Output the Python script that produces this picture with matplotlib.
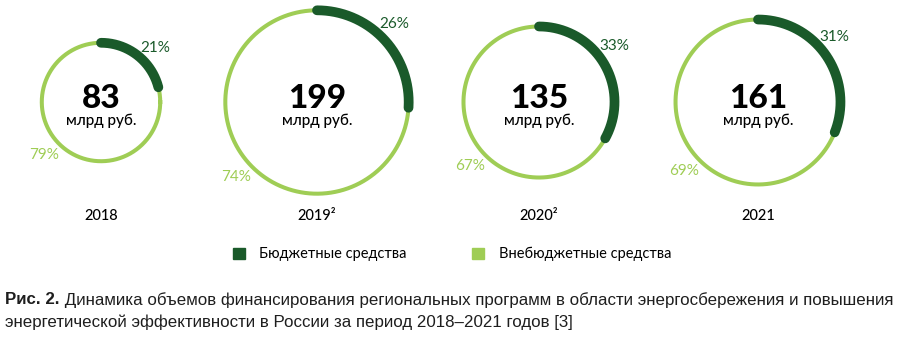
import numpy as np
import matplotlib.pyplot as plt
from matplotlib.patches import Patch

years = ["2018", "2019²", "2020²", "2021"]
totals = [83, 199, 135, 161]
budget_pct = [21, 26, 33, 31]
extra_pct = [79, 74, 67, 69]
unit = "млрд руб."
legend_labels = ["Бюджетные средства", "Внебюджетные средства"]
caption_bold = "Рис. 2."
caption_text = (" Динамика объемов финансирования региональных программ в области энергосбережения и повышения\n"
                 "энергетической эффективности в России за период 2018–2021 годов [3]")

dark = "#1a5a2a"
light = "#9fcd55"
font = ["Lato", "DejaVu Sans"]

fig = plt.figure(figsize=(9, 3.46), dpi=100)
ax = fig.add_axes([0, 0, 1, 1])
ax.set_xlim(0, 900)
ax.set_ylim(346, 0)
ax.set_axis_off()

centers_x = [101, 317, 539, 758]
cy = 102

for cx, total, bp, ep, yr in zip(centers_x, totals, budget_pct, extra_pct, years):
    r = 6.5 * np.sqrt(total)
    t = np.linspace(0, 2 * np.pi, 400)
    ax.plot(cx + r * np.cos(t), cy - r * np.sin(t), color=light, lw=2.9)
    a_end = 90 - bp * 3.6
    ta = np.radians(np.linspace(90, a_end, 200))
    ax.plot(cx + r * np.cos(ta), cy - r * np.sin(ta), color=dark, lw=7,
            solid_capstyle="round")
    # label of the dark arc, a bit past its middle
    am = np.radians(min(90 - bp * 1.8 + 7, 46))
    ax.text(cx + (r + 19) * np.cos(am), cy + 2 - (r + 19) * np.sin(am), f"{bp}%",
            color=dark, fontsize=11, ha="center", va="center", family=font)
    al = np.radians(223)
    ax.text(cx + (r + 19) * np.cos(al), cy - (r + 19) * np.sin(al), f"{ep}%",
            color=light, fontsize=11, ha="center", va="center", family=font)
    ax.text(cx, cy - 4, str(total), fontsize=24, fontweight="black",
            ha="center", va="center", family=font, color="black")
    ax.text(cx, cy + 19, unit, fontsize=11, fontweight="medium", ha="center",
            va="center", family=font, color="black")
    ax.text(cx, 216, yr, fontsize=10.5, fontweight="medium", ha="center",
            va="center", family=font, color="black")

handles = [Patch(color=dark), Patch(color=light)]
ax.legend(handles, legend_labels, ncol=2, frameon=False, loc="center",
          bbox_to_anchor=(452 / 900, 1 - 254 / 346), prop={"family": font, "size": 10.5},
          handlelength=0.8, handleheight=0.8, handletextpad=1.0, columnspacing=4.5)

cap_font = ["Liberation Sans Narrow", "Liberation Sans", "DejaVu Sans"]
tb = ax.text(5, 300, caption_bold, fontsize=12.2, fontweight="bold", family=cap_font,
             va="center", ha="left", color="#1e1e1e")
fig.canvas.draw()
bb = tb.get_window_extent()
x2 = ax.transData.inverted().transform((bb.x1, 0))[0]
ax.text(x2, 300, caption_text.split("\n")[0], fontsize=12.2, family=cap_font,
        va="center", ha="left", color="#1e1e1e")
ax.text(5, 322, caption_text.split("\n")[1], fontsize=12.2, family=cap_font,
        va="center", ha="left", color="#1e1e1e")

fig.savefig("out.png", dpi=100)
